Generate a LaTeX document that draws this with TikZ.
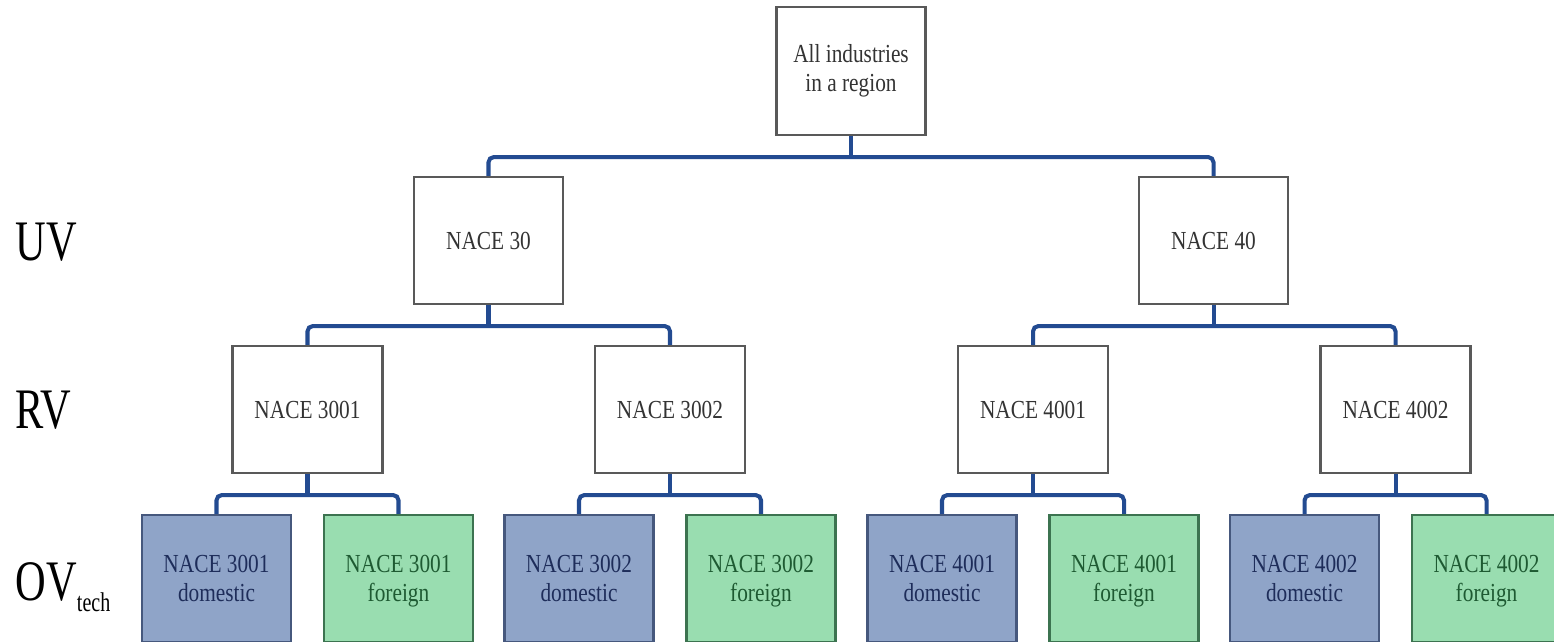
\documentclass[tikz,border=0pt]{standalone}
\usepackage{fontspec}
\setmainfont{Liberation Serif}[FakeStretch=0.82]
\newfontfamily\levelfont{Liberation Serif}[FakeStretch=0.74]
\definecolor{linkblue}{RGB}{35,75,145}
\definecolor{domfill}{RGB}{143,164,200}
\definecolor{domline}{RGB}{70,88,125}
\definecolor{domtext}{RGB}{30,45,90}
\definecolor{forfill}{RGB}{153,221,176}
\definecolor{forline}{RGB}{60,115,80}
\definecolor{fortext}{RGB}{30,90,50}
\newcommand{\nodepth}[1]{\raisebox{0pt}[\height][0pt]{#1}}
\begin{document}
\begin{tikzpicture}[font=\fontsize{7.4}{8.4}\selectfont,
  box/.style={draw=black!65, line width=0.6pt, text=black!80, align=center, minimum width=1.49cm, minimum height=1.27cm, inner sep=1pt},
  dom/.style={box, fill=domfill, draw=domline, text=domtext},
  forn/.style={box, fill=forfill, draw=forline, text=fortext},
  link/.style={draw=linkblue, line width=1.15pt, rounded corners=1.5pt},
  level/.style={font=\levelfont\fontsize{16.3}{18}\selectfont, anchor=base west, inner sep=0pt}]
\useasboundingbox (0,0) rectangle (15.54,-6.41);
\clip (0,0) rectangle (15.54,-6.41);
% level names
\node[level] (uv) at (0.15,-2.60) {UV};
\node[level] (rv) at (0.15,-4.28) {RV};
\node[level] (ov) at (0.15,-6.00) {OV\raisebox{-3.4pt}{\fontsize{7.7}{8}\selectfont tech}};
% tree
\node[box, minimum height=1.28cm] (all) at (8.51,-0.71) {All industries\\in a region};
\node[box] (n30) at (4.885,-2.405) {NACE 30};
\node[box] (n40) at (12.135,-2.405) {NACE 40};
\path (all.south) ++(0,-0.21) coordinate (ball);
\draw[link] (all.south) -- (ball);
\draw[link] (n30.north) |- (ball) -| (n40.north);
\foreach \code/\x/\up in {3001/3.075/n30, 3002/6.70/n30, 4001/10.33/n40, 4002/13.955/n40}
  \node[box, minimum width=1.50cm] (r\code) at (\x,-4.095) {NACE \code};
\foreach \up/\lft/\rgt in {n30/r3001/r3002, n40/r4001/r4002} {
  \path (\up.south) ++(0,-0.21) coordinate (b\up);
  \draw[link] (\up.south) -- (b\up);
  \draw[link] (\lft.north) |- (b\up) -| (\rgt.north);
}
\foreach \code/\x in {3001/3.075, 3002/6.70, 4001/10.33, 4002/13.955} {
  \node[dom] (d\code) at (\x-0.91,-5.785) {NACE \code\\\nodepth{domestic}};
  \node[forn] (f\code) at (\x+0.91,-5.785) {NACE \code\\\nodepth{foreign}};
  \path (r\code.south) ++(0,-0.21) coordinate (b\code);
  \draw[link] (r\code.south) -- (b\code);
  \draw[link] (d\code.north) |- (b\code) -| (f\code.north);
}
\end{tikzpicture}
\end{document}
